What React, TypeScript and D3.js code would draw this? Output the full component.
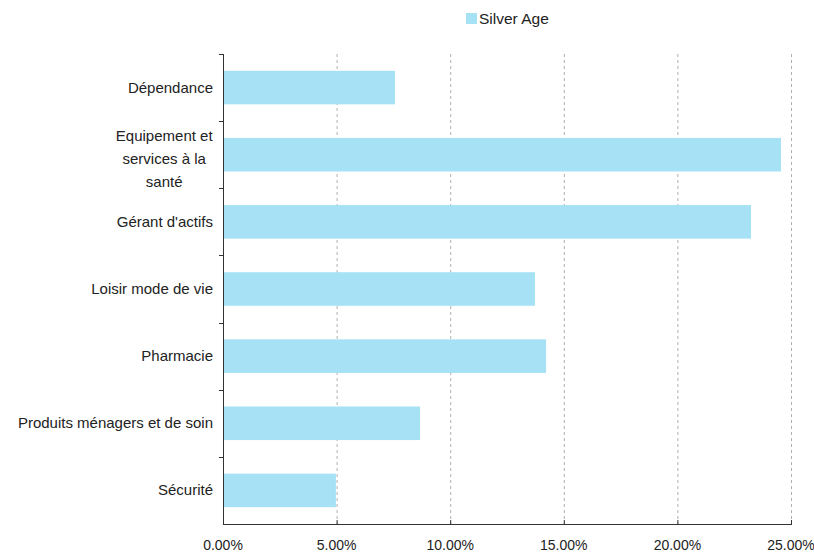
import * as d3 from "d3";
import { useEffect, useRef } from "react";

const categories = [
  "Dépendance",
  "Equipement et services à la santé",
  "Gérant d'actifs",
  "Loisir mode de vie",
  "Pharmacie",
  "Produits ménagers et de soin",
  "Sécurité",
];
// label lines as wrapped in the original
const labelLines = [
  ["Dépendance"],
  ["Equipement et", "services à la", "santé"],
  ["Gérant d'actifs"],
  ["Loisir mode de vie"],
  ["Pharmacie"],
  ["Produits ménagers et de soin"],
  ["Sécurité"],
];
const silverAge = [0.0757, 0.2456, 0.2324, 0.1373, 0.1422, 0.0867, 0.0497];
const xTicks = [0, 0.05, 0.1, 0.15, 0.2, 0.25];
const seriesName = "Silver Age";

const W = 814;
const H = 552;
const margin = { top: 54, right: 23, bottom: 28, left: 223 };
const FONT = "'Liberation Sans', Arial, sans-serif";

export default function App() {
  const ref = useRef<SVGSVGElement>(null);

  useEffect(() => {
    const svg = d3.select(ref.current);
    svg.selectAll("*").remove();

    const x = d3
      .scaleLinear()
      .domain([0, 0.25])
      .range([margin.left, W - margin.right]);
    const y = d3
      .scaleBand()
      .domain(categories)
      .range([margin.top, H - margin.bottom])
      .paddingInner(0.5)
      .paddingOuter(0.25);
    const band = d3
      .scaleBand()
      .domain(categories)
      .range([margin.top, H - margin.bottom]);
    const bottom = H - margin.bottom;

    // grid
    svg
      .append("g")
      .selectAll("line")
      .data(xTicks.slice(1))
      .join("line")
      .attr("x1", (d) => x(d) + 0.5)
      .attr("x2", (d) => x(d) + 0.5)
      .attr("y1", margin.top)
      .attr("y2", bottom)
      .attr("stroke", "#b0b0b0")
      .attr("stroke-dasharray", "3,3");

    // bars
    svg
      .append("g")
      .selectAll("rect")
      .data(silverAge)
      .join("rect")
      .attr("x", x(0))
      .attr("y", (_, i) => y(categories[i])!)
      .attr("width", (d) => x(d) - x(0))
      .attr("height", y.bandwidth())
      .attr("fill", "#a6e1f6");

    // y axis
    const gy = svg.append("g");
    gy.append("line")
      .attr("x1", x(0) + 0.5)
      .attr("x2", x(0) + 0.5)
      .attr("y1", margin.top)
      .attr("y2", bottom)
      .attr("stroke", "#333");
    gy.selectAll("line.tick")
      .data(categories)
      .join("line")
      .attr("class", "tick")
      .attr("x1", x(0) - 4)
      .attr("x2", x(0) + 0.5)
      .attr("y1", (d) => Math.round(band(d)!) + 0.5)
      .attr("y2", (d) => Math.round(band(d)!) + 0.5)
      .attr("stroke", "#333");

    const lineH = 23;
    categories.forEach((c, i) => {
      const lines = labelLines[i];
      const cy = band(c)! + band.bandwidth() / 2 + (lines.length > 1 ? 4 : 0);
      const t = gy
        .append("text")
        .attr("font-family", FONT)
        .attr("font-size", 15)
        .attr("fill", "#222")
        .attr("text-anchor", "middle");
      lines.forEach((l, j) => {
        t.append("tspan")
          .attr("x", 0)
          .attr("y", cy + (j - (lines.length - 1) / 2) * lineH + 5)
          .text(l);
      });
      const w = (t.node() as SVGTextElement).getBBox().width;
      t.selectAll("tspan").attr("x", x(0) - 10 - w / 2);
    });

    // x axis
    const gx = svg.append("g");
    gx.append("line")
      .attr("x1", x(0))
      .attr("x2", x(0.25) + 1)
      .attr("y1", bottom + 0.5)
      .attr("y2", bottom + 0.5)
      .attr("stroke", "#333");
    gx.selectAll("line.tick")
      .data(xTicks)
      .join("line")
      .attr("class", "tick")
      .attr("x1", (d) => x(d) + 0.5)
      .attr("x2", (d) => x(d) + 0.5)
      .attr("y1", bottom - 4)
      .attr("y2", bottom)
      .attr("stroke", "#333");
    gx.selectAll("text")
      .data(xTicks)
      .join("text")
      .attr("x", (d) => x(d))
      .attr("y", bottom + 26)
      .attr("text-anchor", "middle")
      .attr("font-family", FONT)
      .attr("font-size", 14)
      .attr("fill", "#222")
      .text((d) => d3.format(".2%")(d));

    // legend
    const lg = svg.append("g").attr("transform", "translate(466,13)");
    lg.append("rect").attr("width", 11).attr("height", 11).attr("fill", "#a6e1f6");
    lg.append("text")
      .attr("x", 13)
      .attr("y", 11)
      .attr("font-family", FONT)
      .attr("font-size", 15.5)
      .attr("fill", "#222")
      .text(seriesName);
  }, []);

  return (
    <svg
      ref={ref}
      width={W}
      height={H}
      style={{ position: "absolute", left: 0, top: 0, background: "#fff" }}
    />
  );
}
